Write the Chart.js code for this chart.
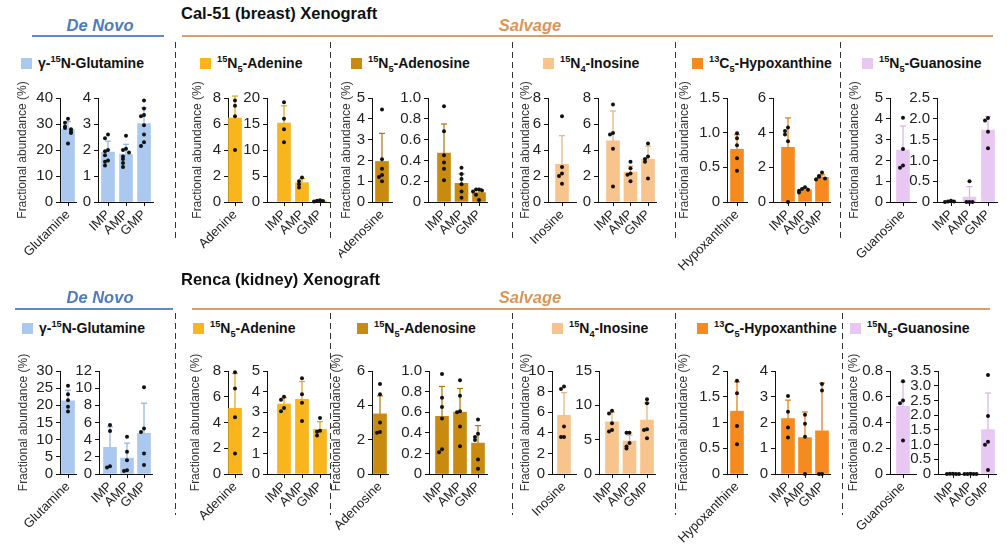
<!DOCTYPE html>
<html lang="en">
<head>
<meta charset="UTF-8">
<title>Purine labeling in Cal-51 and Renca xenografts</title>
<script src="https://cdn.jsdelivr.net/npm/chart.js"></script>
<style>
  body { margin: 0; background: #fff; font-family: "Liberation Sans", Arial, sans-serif; }
  #fig { position: relative; width: 1007px; height: 553px; overflow: hidden; }
  #fig div { position: absolute; }
  .title { font-weight: bold; font-size: 16.5px; line-height: 20px; color: #111; white-space: nowrap; }
  .path { font-weight: bold; font-style: italic; font-size: 16.5px; line-height: 20px; white-space: nowrap; transform: translateX(-50%); }
  .rule { height: 2px; }
  .sep { width: 1.3px; background: repeating-linear-gradient(to bottom, #333 0 6px, transparent 6px 10px); }
  .leg { font-weight: bold; font-size: 14px; line-height: 18px; color: #111; white-space: nowrap; }
  .leg span { display: inline-block; width: 11px; height: 11px; margin-right: 6px; vertical-align: -1px; }
  sup, sub { font-size: 0.66em; line-height: 0; }
  canvas { position: absolute; }
</style>
</head>
<body>
<div id="fig"></div>
<script>
  // ---- labels shared by both xenografts ----
  const tracerNames = [
    'γ-<sup>15</sup>N-Glutamine',
    '<sup>15</sup>N<sub>5</sub>-Adenine',
    '<sup>15</sup>N<sub>5</sub>-Adenosine',
    '<sup>15</sup>N<sub>4</sub>-Inosine',
    '<sup>13</sup>C<sub>5</sub>-Hypoxanthine',
    '<sup>15</sup>N<sub>5</sub>-Guanosine'
  ];
  const singleLabels = ['Glutamine', 'Adenine', 'Adenosine', 'Inosine', 'Hypoxanthine', 'Guanosine'];
  const nucLabels = ['IMP', 'AMP', 'GMP'];
  const tracerColors = ['#abc9ef', '#f8b51c', '#c98a10', '#f8c48e', '#f58b1f', '#e8c8f3'];
  const errColors = ['#8fb2e0', '#e2a312', '#b07508', '#e9b07a', '#e07a10', '#d6b0ea'];

  // ---- Cal-51 (breast) ----
  const calSingleMean = [28.0, 6.45, 1.95, 2.9, 0.76, 2.5];
  const calSingleSD = [2.9, 1.7, 1.35, 2.2, 0.21, 1.15];
  const calSinglePoints = [
    [32.0, 30.5, 29.0, 28.5, 28.0, 27.0, 26.5, 22.5],
    [7.8, 7.4, 6.6, 4.0],
    [4.45, 2.05, 1.6, 1.3, 1.2, 1.0],
    [6.6, 2.7, 2.2, 2.0, 1.4],
    [0.99, 0.92, 0.82, 0.63, 0.45],
    [4.05, 2.55, 1.75, 1.65]
  ];
  const calSingleTicks = [
    ['0', '10', '20', '30', '40'],
    ['0', '2', '4', '6', '8'],
    ['0', '1', '2', '3', '4', '5'],
    ['0', '2', '4', '6', '8'],
    ['0', '0.5', '1.0', '1.5'],
    ['0', '1', '2', '3', '4', '5']
  ];
  const calNucMean = [[1.92, 1.84, 3.02], [15.2, 3.7, 0.22], [0.47, 0.18, 0.09], [4.7, 2.3, 3.3], [3.15, 0.7, 1.42], [0.01, 0.12, 1.73]];
  const calNucSD = [[0.42, 0.38, 0.6], [3.3, 0.8, 0.12], [0.28, 0.09, 0.04], [2.3, 0.45, 1.0], [1.7, 0.12, 0.15], [0.01, 0.25, 0.33]];
  const calNucPoints = [
    [[2.6, 2.45, 2.0, 1.95, 1.8, 1.6, 1.55, 1.4], [2.55, 2.05, 2.0, 1.9, 1.75, 1.65, 1.5, 1.35], [3.9, 3.6, 3.35, 3.3, 2.95, 2.6, 2.3, 2.15]],
    [[19.2, 16.0, 14.0, 11.5], [4.7, 4.0, 3.4, 2.8], [0.35, 0.25, 0.2, 0.1]],
    [[0.92, 0.68, 0.45, 0.38, 0.32, 0.21], [0.33, 0.27, 0.22, 0.17, 0.1, 0.04], [0.12, 0.12, 0.11, 0.1, 0.07, 0.02]],
    [[7.5, 5.3, 5.2, 4.1, 1.2], [3.1, 2.6, 2.2, 2.1, 1.6], [4.5, 3.5, 3.3, 3.1, 1.8]],
    [[4.3, 4.1, 3.9, 3.5, 0], [0.85, 0.75, 0.7, 0.65, 0.55], [1.7, 1.5, 1.45, 1.35, 1.3]],
    [[0.03, 0.01, 0.01, 0.0], [0.5, 0.0, 0.0, 0.0], [2.02, 1.96, 1.69, 1.29]]
  ];
  const calNucTicks = [
    ['0', '1', '2', '3', '4'],
    ['0', '5', '10', '15', '20'],
    ['0', '0.2', '0.4', '0.6', '0.8', '1.0'],
    ['0', '2', '4', '6', '8'],
    ['0', '2', '4', '6'],
    ['0', '0.5', '1.0', '1.5', '2.0', '2.5']
  ];

  // ---- Renca (kidney) ----
  const renSingleMean = [21.3, 5.1, 3.5, 5.7, 1.22, 0.525];
  const renSingleSD = [3.1, 2.7, 1.05, 2.2, 0.57, 0.19];
  const renSinglePoints = [
    [25.7, 23.2, 21.5, 19.6, 18.2],
    [7.9, 6.65, 4.4, 1.6],
    [5.25, 4.65, 3.0, 2.45, 2.4],
    [8.5, 8.25, 4.6, 3.6, 3.6],
    [1.81, 1.57, 0.93, 0.58],
    [0.72, 0.57, 0.55, 0.26]
  ];
  const renSingleTicks = [
    ['0', '5', '10', '15', '20', '25', '30'],
    ['0', '2', '4', '6', '8'],
    ['0', '2', '4', '6'],
    ['0', '2', '4', '6', '8', '10'],
    ['0', '0.5', '1', '1.5', '2'],
    ['0', '0.2', '0.4', '0.6', '0.8']
  ];
  const renNucMean = [[3.1, 1.85, 4.75], [3.4, 3.62, 2.17], [0.56, 0.6, 0.3], [7.6, 4.8, 7.85], [2.15, 1.41, 1.68], [0.005, 0.005, 1.51]];
  const renNucSD = [[2.4, 1.75, 3.5], [0.3, 0.87, 0.37], [0.29, 0.23, 0.17], [1.4, 0.85, 2.5], [0.72, 1.0, 1.85], [0.005, 0.005, 1.24]];
  const renNucPoints = [
    [[5.7, 5.0, 0.9, 0.75], [4.35, 2.6, 1.6, 0.45, 0.35], [10.1, 5.3, 4.9, 2.4, 1.05]],
    [[3.75, 3.6, 3.2, 3.05], [4.65, 3.87, 3.46, 2.57], [2.72, 2.1, 2.05, 1.87]],
    [[0.97, 0.74, 0.65, 0.54, 0.24, 0.21], [0.91, 0.76, 0.61, 0.6, 0.46, 0.27], [0.53, 0.39, 0.36, 0.33, 0.14, 0.05]],
    [[9.2, 8.8, 7.4, 6.4, 6.2], [6.0, 6.0, 4.5, 4.0, 3.7], [10.9, 10.3, 6.5, 6.4, 5.2]],
    [[3.03, 2.42, 1.81, 1.42], [2.3, 1.95, 1.45, 0], [3.5, 3.24, 0, 0]],
    [[0.01, 0.01, 0, 0, 0], [0.01, 0, 0, 0, 0], [3.36, 1.97, 1.1, 0.99, 0.14]]
  ];
  const renNucTicks = [
    ['0', '2', '4', '6', '8', '10', '12'],
    ['0', '1', '2', '3', '4', '5'],
    ['0', '0.2', '0.4', '0.6', '0.8', '1.0'],
    ['0', '5', '10', '15'],
    ['0', '1', '2', '3', '4'],
    ['0', '0.5', '1.0', '1.5', '2.0', '2.5', '3.0', '3.5']
  ];

  // ---- page layout (pixels) ----
  const rows = [
    {
      title: 'Cal-51 (breast) Xenograft', titleY: 13, pathY: 26, ruleY: 35, blue: [32, 164], orange: [182, 993],
      legY: 63, legX: [21, 200, 351, 543, 692, 862], sepX: [175, 330, 512, 675, 840], sepTop: 42, sepBottom: 238,
      top: 98, zero: 202,
      titleX: [22, 197, 346, 525, 684, 854], aAxis: [60, 228, 372, 548, 727, 890], aBar: [68, 235, 382, 562, 737, 903],
      bAxis: [98, 267, 428, 598, 773, 937], bFirst: [108, 284, 444, 613, 788, 951], bStep: [18, 18, 17.5, 17.5, 17, 18.5],
      singleMean: calSingleMean, singleSD: calSingleSD, singlePoints: calSinglePoints, singleTicks: calSingleTicks,
      nucMean: calNucMean, nucSD: calNucSD, nucPoints: calNucPoints, nucTicks: calNucTicks
    },
    {
      title: 'Renca (kidney) Xenograft', titleY: 279, pathY: 298, ruleY: 308, blue: [15, 173], orange: [192, 990],
      legY: 328, legX: [22, 193, 357, 552, 697, 850], sepX: [175, 330, 512, 675, 842], sepTop: 313, sepBottom: 515,
      top: 371, zero: 474,
      titleX: [23, 195, 336, 525, 683, 853], aAxis: [60, 228, 372, 552, 727, 890], aBar: [68, 235, 380, 564, 737, 903],
      bAxis: [99, 267, 429, 599, 775, 938], bFirst: [110, 284, 442, 612, 788, 953], bStep: [17, 18, 18, 17.5, 17, 17.5],
      singleMean: renSingleMean, singleSD: renSingleSD, singlePoints: renSinglePoints, singleTicks: renSingleTicks,
      nucMean: renNucMean, nucSD: renNucSD, nucPoints: renNucPoints, nucTicks: renNucTicks
    }
  ];

  const FONT = '"Liberation Sans", Arial, sans-serif';
  const PAD_TOP = 30, X_H = 80;
  const fig = document.getElementById('fig');

  function addDiv(cls, css, html) {
    const d = document.createElement('div');
    d.className = cls;
    Object.assign(d.style, css);
    if (html) d.innerHTML = html;
    fig.appendChild(d);
    return d;
  }

  // spread dots that sit close together sideways, like a scatter dot plot
  function spread(vals, pxPerY, unit) {
    const placed = [];
    return vals.map(v => {
      const near = placed.filter(p => Math.abs(p - v) * pxPerY < 4).length;
      placed.push(v);
      return [0, -1, 1, -2, 2, -3, 3][Math.min(near, 6)] * unit;
    });
  }

  function makePanel(o) {
    const yW = o.yTitle ? Math.round(o.axisX - (o.titleX - 7.2)) : 44;
    const plotW = o.step * (o.xMax - o.xMin);
    const plotH = o.zero - o.top;
    const w = Math.ceil(yW + plotW + 14);
    const h = PAD_TOP + plotH + X_H;
    const padR = w - yW - plotW;

    const cv = document.createElement('canvas');
    cv.width = w; cv.height = h;
    cv.style.left = (o.axisX - yW) + 'px';
    cv.style.top = (o.top - PAD_TOP) + 'px';
    cv.style.width = w + 'px';
    cv.style.height = h + 'px';
    fig.appendChild(cv);

    const tickVals = o.ticks.map(Number);
    const yMax = tickVals[tickVals.length - 1];
    const jit = 3 / o.step;

    const dots = [];
    o.points.forEach((vals, i) => {
      const offs = spread(vals, plotH / yMax, jit);
      vals.forEach((v, j) => dots.push({ x: i + offs[j], y: v }));
    });
    const errs = [];
    o.means.forEach((m, i) => errs.push({ x: i, y: m }, { x: i, y: m + o.sds[i] }, { x: i, y: null }));
    const bars = o.means.map((m, i) => ({ x: i, y: m }));

    new Chart(cv, {
      type: 'bar',
      data: {
        datasets: [
          { type: 'scatter', data: dots, pointRadius: 2, pointBackgroundColor: '#111', pointBorderWidth: 0, clip: false },
          {
            type: 'line', data: errs, borderColor: o.errColor, borderWidth: 1.2, fill: false, spanGaps: false, clip: false,
            pointStyle: 'line', pointRadius: c => (c.dataIndex % 3 === 1 ? 3 : 0),
            pointBorderColor: o.errColor, pointBorderWidth: 1.2
          },
          { type: 'bar', data: bars, backgroundColor: o.color, borderWidth: 0, barThickness: 13 }
        ]
      },
      options: {
        responsive: false,
        animation: false,
        events: [],
        devicePixelRatio: 1,
        layout: { padding: { top: PAD_TOP, right: padR, bottom: 0, left: 0 } },
        plugins: { legend: { display: false }, tooltip: { enabled: false } },
        scales: {
          x: {
            type: 'linear', min: o.xMin, max: o.xMax, bounds: 'data', offset: false,
            border: { display: true, color: '#111', width: 1 },
            grid: { display: true, offset: false, drawOnChartArea: false, drawTicks: true, tickLength: 4, tickColor: '#111' },
            ticks: {
              autoSkip: false, minRotation: 45, maxRotation: 45, padding: 1, color: '#222',
              font: { family: FONT, size: 13 },
              callback: v => (o.labels[v] !== undefined ? o.labels[v] : '')
            },
            afterBuildTicks: s => { s.ticks = o.labels.map((_, i) => ({ value: i })); },
            afterFit: s => { s.height = X_H; s.paddingLeft = 0; s.paddingRight = 0; }
          },
          y: {
            type: 'linear', min: 0, max: yMax,
            border: { display: true, color: '#111', width: 1 },
            grid: { drawOnChartArea: false, drawTicks: true, tickLength: 4, tickColor: '#111' },
            ticks: {
              autoSkip: false, padding: 3, color: '#222',
              font: { family: FONT, size: 15 },
              callback: (v, i) => o.ticks[i]
            },
            title: {
              display: !!o.yTitle, text: 'Fractional abundance (%)', color: '#333', padding: 0,
              font: { family: FONT, size: 12 }
            },
            afterBuildTicks: s => { s.ticks = tickVals.map(v => ({ value: v })); },
            afterFit: s => { s.width = yW; s.paddingTop = 0; s.paddingBottom = 0; }
          }
        }
      }
    });
  }

  rows.forEach(r => {
    addDiv('title', { left: '181px', top: (r.titleY - 10) + 'px' }, r.title);
    addDiv('path', { left: '100px', top: (r.pathY - 11) + 'px', color: '#4d7bbd' }, 'De Novo');
    addDiv('path', { left: '530px', top: (r.pathY - 11) + 'px', color: '#d99658' }, 'Salvage');
    addDiv('rule', { left: r.blue[0] + 'px', width: (r.blue[1] - r.blue[0]) + 'px', top: r.ruleY + 'px', background: '#5f88c4' });
    addDiv('rule', { left: r.orange[0] + 'px', width: (r.orange[1] - r.orange[0]) + 'px', top: r.ruleY + 'px', background: '#dc9e6a' });
    r.sepX.forEach(x => addDiv('sep', { left: x + 'px', top: r.sepTop + 'px', height: (r.sepBottom - r.sepTop) + 'px' }));

    tracerNames.forEach((name, g) => {
      addDiv('leg', { left: r.legX[g] + 'px', top: (r.legY - 9) + 'px' },
        '<span style="background:' + tracerColors[g] + '"></span>' + name);

      makePanel({
        axisX: r.aAxis[g], titleX: r.titleX[g], yTitle: true, top: r.top, zero: r.zero,
        step: r.aBar[g] - r.aAxis[g], xMin: -1, xMax: 1,
        labels: [singleLabels[g]], means: [r.singleMean[g]], sds: [r.singleSD[g]], points: [r.singlePoints[g]],
        ticks: r.singleTicks[g], color: tracerColors[g], errColor: errColors[g]
      });

      makePanel({
        axisX: r.bAxis[g], yTitle: false, top: r.top, zero: r.zero,
        step: r.bStep[g], xMin: -(r.bFirst[g] - r.bAxis[g]) / r.bStep[g], xMax: 2.5,
        labels: nucLabels, means: r.nucMean[g], sds: r.nucSD[g], points: r.nucPoints[g],
        ticks: r.nucTicks[g], color: tracerColors[g], errColor: errColors[g]
      });
    });
  });
</script>
</body>
</html>
